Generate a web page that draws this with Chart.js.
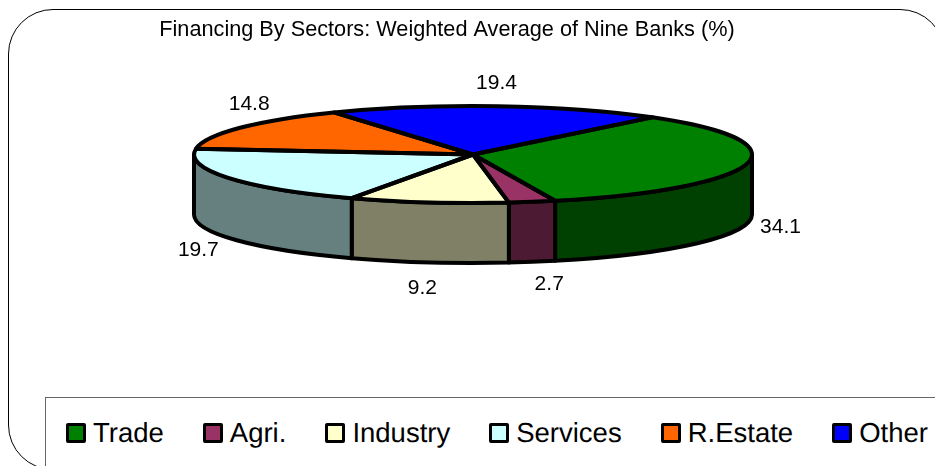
<!DOCTYPE html>
<html>
<head>
<meta charset="utf-8">
<title>Financing By Sectors</title>
<script src="https://cdn.jsdelivr.net/npm/chart.js@4"></script>
<style>
  html, body { margin: 0; padding: 0; width: 935px; height: 466px; overflow: hidden; background: #fff; }
  body { position: relative; font-family: "Liberation Sans", Arial, sans-serif; color: #000; text-rendering: geometricPrecision; }
  #frame { position: absolute; left: 8px; top: 9px; width: 935px; height: 459px; border: 1.5px solid #000; border-radius: 45px; }
  #pie-chart { position: absolute; left: 0; top: 0; }
  #pie-chart-legend { position: absolute; left: 45px; top: 397px; width: 1000px; height: 100px; border: 1px solid #666; background: #fff; box-sizing: border-box; }
  #pie-chart-legend ul { list-style: none; margin: 0; padding: 0 0 0 20px; display: flex; height: 70px; align-items: center; font-size: 27.5px; line-height: 30px; }
  #pie-chart-legend li { display: flex; align-items: center; margin-right: 39px; white-space: nowrap; }
  #pie-chart-legend span { display: inline-block; width: 14px; height: 14px; border: 3.5px solid #000; border-radius: 2px; margin-right: 7px; }
</style>
</head>
<body>
<div id="frame"></div>
<div id="pie-chart-legend"></div>
<canvas id="pie-chart" width="935" height="466"></canvas>
<script>
(function () {
  'use strict';

  const chartTitle = 'Financing By Sectors: Weighted Average of Nine Banks (%)';
  const categories = ['Trade', 'Agri.', 'Industry', 'Services', 'R.Estate', 'Other'];
  const shares = [34.1, 2.7, 9.2, 19.7, 14.8, 19.4];

  const topColors = ['#008000', '#993366', '#FFFFCC', '#CCFFFF', '#FF6600', '#0000FF'];
  const sideColors = ['#004000', '#4D1A33', '#808066', '#668080', '#803300', '#000080'];

  // where the flattened pie sits on the page
  const disc = { x: 473, y: 154.5, rx: 279, ry: 48.5, depth: 60 };
  const outlineWidth = 4;

  // nudges for the value labels, from the slice edge outwards
  const labelNudge = [[34, 3], [17, 22], [-6, 26], [-30, 12], [9, -24], [-1, -23]];

  function arcsOf(chart) {
    return chart.getDatasetMeta(0).data;
  }

  function sectorPath(ctx, arc) {
    ctx.beginPath();
    ctx.moveTo(disc.x, disc.y);
    ctx.ellipse(disc.x, disc.y, disc.rx, disc.ry, 0, arc.startAngle, arc.endAngle);
    ctx.closePath();
  }

  // Flatten the library's round pie and stand it on a wall
  const flatPie = {
    id: 'flatPie',
    beforeDatasetsDraw(chart) {
      const ctx = chart.ctx;
      ctx.save();
      ctx.lineWidth = outlineWidth;
      ctx.lineJoin = 'round';
      ctx.strokeStyle = '#000';
      arcsOf(chart).forEach((arc, i) => {
        // only the front half of the rim is visible
        const from = Math.max(arc.startAngle, 0);
        const to = Math.min(arc.endAngle, Math.PI);
        if (to <= from) {
          return;
        }
        ctx.beginPath();
        ctx.ellipse(disc.x, disc.y, disc.rx, disc.ry, 0, from, to);
        ctx.ellipse(disc.x, disc.y + disc.depth, disc.rx, disc.ry, 0, to, from, true);
        ctx.closePath();
        ctx.fillStyle = sideColors[i];
        ctx.fill();
        ctx.stroke();
      });
      ctx.restore();

      const first = arcsOf(chart)[0];
      ctx.save();
      ctx.translate(disc.x, disc.y);
      ctx.scale(disc.rx / first.outerRadius, disc.ry / first.outerRadius);
      ctx.translate(-first.x, -first.y);
    },
    afterDatasetsDraw(chart) {
      const ctx = chart.ctx;
      ctx.restore();

      ctx.save();
      ctx.lineWidth = outlineWidth;
      ctx.lineJoin = 'round';
      ctx.strokeStyle = '#000';
      arcsOf(chart).forEach((arc) => {
        sectorPath(ctx, arc);
        ctx.stroke();
      });

      ctx.fillStyle = '#000';
      ctx.font = '21px "Liberation Sans", Arial, sans-serif';
      ctx.textAlign = 'center';
      ctx.textBaseline = 'middle';
      arcsOf(chart).forEach((arc, i) => {
        const mid = (arc.startAngle + arc.endAngle) / 2;
        const sin = Math.sin(mid);
        const edgeX = disc.x + disc.rx * Math.cos(mid);
        const edgeY = disc.y + disc.ry * sin + (sin > 0 ? disc.depth : 0);
        ctx.fillText(shares[i].toFixed(1), edgeX + labelNudge[i][0], edgeY + labelNudge[i][1]);
      });
      ctx.restore();
    }
  };

  const ctx = document.getElementById('pie-chart');

  new Chart(ctx, {
    type: 'pie',
    data: {
      labels: categories,
      datasets: [{
        data: shares,
        backgroundColor: topColors,
        borderWidth: 0,
        clip: false
      }]
    },
    options: {
      responsive: false,
      animation: false,
      rotation: 40,
      layout: {
        padding: { left: 0, right: 41, top: 0, bottom: 160 }
      },
      plugins: {
        legend: { display: false },
        tooltip: { enabled: false },
        title: {
          display: true,
          text: chartTitle,
          color: '#000',
          padding: { top: 17, bottom: 6 },
          font: { family: '"Liberation Sans", Arial, sans-serif', size: 21.7, weight: 'normal' }
        }
      }
    },
    plugins: [flatPie, {
      id: 'htmlLegend',
      afterInit(chart) {
        const legendElement = document.getElementById(`${chart.canvas.id}-legend`);
        const ul = document.createElement('ul');
        chart.data.labels.forEach((label, i) => {
          ul.innerHTML += `<li><span style="background-color: ${topColors[i]}"></span>${label}</li>`;
        });
        legendElement.appendChild(ul);
      }
    }]
  });
})();
</script>
</body>
</html>
